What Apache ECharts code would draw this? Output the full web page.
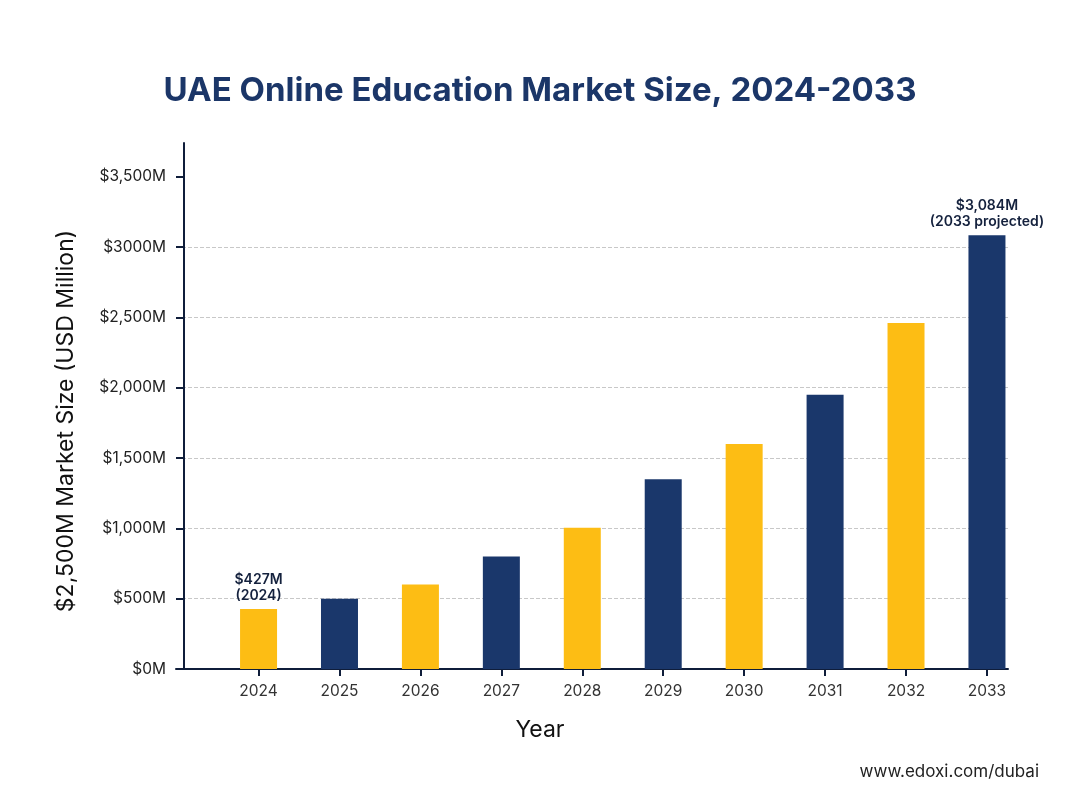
<!DOCTYPE html>
<html>
<head>
<meta charset="utf-8">
<title>UAE Online Education Market Size</title>
<script src="https://cdn.jsdelivr.net/npm/echarts@6/dist/echarts.min.js"></script>
<style>
  html, body { margin: 0; padding: 0; background: #fff; }
  #chart { width: 1080px; height: 804px; }
</style>
</head>
<body>
<div id="chart"></div>
<script>
// data
var years = [2024, 2025, 2026, 2027, 2028, 2029, 2030, 2031, 2032, 2033];
var marketSize = [427, 500, 600, 800, 1005, 1350, 1600, 1950, 2460, 3084];
var yTicks = [0, 500, 1000, 1500, 2000, 2500, 3000, 3500];
var yTickLabels = ['$0M', '$500M', '$1,000M', '$1,500M', '$2,000M', '$2,500M', '$3000M', '$3,500M'];
var callouts = { 2024: '$427M\n(2024)', 2033: '$3,084M\n(2033 projected)' };

var YELLOW = '#FDBD14';
var NAVY = '#1A376B';
var FONT = 'Inter, "Noto Sans", sans-serif';

var chart = echarts.init(document.getElementById('chart'));

var barData = years.map(function (y, i) {
    var item = {
        value: [y, marketSize[i]],
        itemStyle: { color: i % 2 === 0 ? YELLOW : NAVY }
    };
    if (callouts[y]) {
        item.label = {
            show: true,
            position: 'top',
            distance: 5,
            formatter: callouts[y],
            fontFamily: FONT,
            fontSize: 14,
            fontWeight: 600,
            lineHeight: 16,
            color: '#14213d'
        };
    }
    return item;
});

chart.setOption({
    backgroundColor: '#fff',
    title: [{
        text: 'UAE Online Education Market Size, 2024-2033',
        left: 'center',
        top: 70,
        textStyle: { fontFamily: FONT, fontSize: 33, fontWeight: 700, color: '#1B3668' }
    }, {
        text: 'www.edoxi.com/dubai',
        right: 36,
        top: 758,
        textStyle: { fontFamily: FONT, fontSize: 17, fontWeight: 400, color: '#222' }
    }],
    grid: { left: 176, right: 72, top: 143, bottom: 135 },
    xAxis: {
        type: 'value',
        min: 2022.98,
        max: 2033.26,
        name: 'Year',
        nameLocation: 'middle',
        nameGap: 50,
        nameTextStyle: { fontFamily: FONT, fontSize: 23, color: '#111', padding: [0, 104, 0, 0] },
        axisLine: { show: true, lineStyle: { color: '#0f1d3a', width: 2 } },
        axisTick: { show: true, length: 7, customValues: years, lineStyle: { color: '#0f1d3a', width: 2 } },
        axisLabel: {
            customValues: years,
            margin: 14,
            fontFamily: FONT,
            fontSize: 15.5,
            color: '#333',
            formatter: function (v) { return String(v); }
        },
        splitLine: { show: false }
    },
    yAxis: {
        type: 'value',
        min: 0,
        max: 3740,
        interval: 500,
        offset: -8,
        name: '$2,500M Market Size (USD Million)',
        nameLocation: 'middle',
        nameGap: 106,
        nameTextStyle: { fontFamily: FONT, fontSize: 23, color: '#111', padding: [0, 30, 0, 0] },
        axisLine: { show: true, lineStyle: { color: '#0f1d3a', width: 2 } },
        axisTick: { show: true, length: 8, customValues: yTicks, lineStyle: { color: '#0f1d3a', width: 2 } },
        axisLabel: {
            customValues: yTicks,
            margin: 18,
            fontFamily: FONT,
            fontSize: 15.5,
            color: '#222',
            formatter: function (v) { return yTickLabels[yTicks.indexOf(v)] || ''; }
        },
        splitLine: { show: true, showMaxLine: false, lineStyle: { color: '#c8c8c8', type: 'dashed', width: 1 } }
    },
    series: [{
        type: 'bar',
        barWidth: 37,
        data: barData
    }]
});
</script>
</body>
</html>
